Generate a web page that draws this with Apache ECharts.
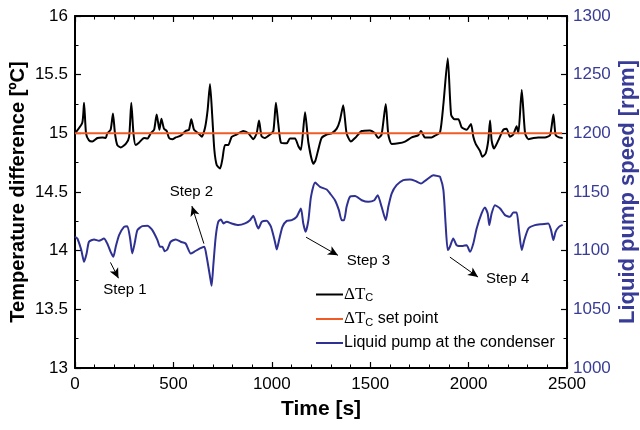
<!DOCTYPE html>
<html>
<head>
<meta charset="utf-8">
<script src="https://cdn.jsdelivr.net/npm/echarts@6/dist/echarts.min.js"></script>
<style>
  html, body { margin: 0; padding: 0; background: #fff; }
  #chart { width: 640px; height: 430px; }
</style>
</head>
<body>
<div id="chart"></div>
<script>
// ΔTc (temperature difference at the condenser) [time s, °C]
const dtTime = [0, 37, 46, 56, 71, 88, 114, 139, 156, 164, 181, 193, 203, 215, 232, 258, 275, 286, 297, 308, 325, 351, 368, 385, 402, 415, 429, 439, 452, 466, 478, 495, 512, 537, 562, 579, 591, 605,
  627, 644, 661, 674, 686, 698, 708, 720, 737, 749, 762, 779, 796, 821, 855, 881, 906, 923, 935, 948, 965, 991, 1008, 1021, 1033, 1047, 1076, 1092, 1118, 1135, 1148, 1169, 1186, 1211, 1222,
  1236, 1253, 1279, 1304, 1330, 1346, 1363, 1380, 1402, 1423, 1457, 1499, 1524, 1541, 1558, 1579, 1592, 1609, 1643, 1677, 1711, 1745, 1758, 1778, 1812, 1829,
  1855, 1872, 1894, 1911, 1928, 1948, 1965, 1990, 2012, 2024, 2036, 2058, 2070, 2087, 2100, 2109, 2117, 2129, 2151, 2176, 2193, 2210, 2227, 2244, 2253, 2270, 2287, 2304, 2329, 2354, 2388, 2414, 2431, 2442, 2459, 2478];
const dtValue = [15.0, 15.09, 15.26, 15.0, 14.94, 14.93, 14.96, 14.965, 14.96, 15.0, 15.03, 15.17, 15.0, 14.9, 14.88, 14.91, 14.97, 15.26, 15.0, 14.9, 14.92, 14.96, 14.955, 15.0, 15.03, 15.16, 15.03, 15.125, 15.04, 15.02, 14.96, 14.95, 14.965, 14.98, 15.02, 15.03, 15.12, 15.03,
  15.0, 14.97, 15.05, 15.2, 15.42, 15.13, 14.86, 14.73, 14.70, 14.78, 14.90, 14.90, 14.97, 14.99, 15.02, 15.0, 14.95, 15.0, 15.11, 14.975, 14.96, 14.99, 15.02, 15.26, 15.08, 14.92, 14.915, 14.955, 14.955, 14.89, 14.86, 15.18, 14.92, 14.74, 14.77,
  14.86, 14.96, 14.99, 15.0, 15.04, 15.11, 15.24, 15.0, 14.93, 14.96, 15.02, 15.025, 15.0, 14.96, 14.99, 15.25, 14.99, 14.91, 14.915, 14.93, 14.965, 14.985, 15.02, 14.965, 14.965, 14.98,
  15.01, 15.25, 15.64, 15.16, 15.12, 15.12, 15.05, 15.03, 15.08, 14.97, 14.91, 14.85, 14.80, 14.83, 14.94, 15.11, 14.94, 14.87, 14.94, 15.03, 15.04, 14.97, 14.99, 15.06, 15.0, 15.37, 15.0, 14.95, 14.96, 14.965, 14.965, 14.985, 15.16, 14.985, 14.965, 14.96];

// ΔTc set point
const setTime = [0, 2475];
const setValue = [15, 15];

// liquid pump speed at the condenser [time s, rpm]
const pumpTime = [0, 12, 32, 46, 59, 71, 97, 122, 147, 164, 181, 195, 207, 224, 249, 266, 280, 291, 303, 317, 342, 368, 393, 419, 432, 444, 456, 469, 486, 512, 537, 562, 588, 605,
  635, 657, 669, 686, 694, 703, 715, 728, 742, 754, 771, 796, 830, 864, 889, 906, 923, 932, 949, 974, 996, 1016, 1025, 1037, 1054, 1076, 1101, 1126, 1148, 1160, 1172, 1186, 1199, 1220,
  1245, 1279, 1296, 1321, 1341, 1355, 1367, 1380, 1397, 1423, 1457, 1490, 1521, 1538, 1558, 1579, 1592, 1609, 1634, 1668, 1702, 1728, 1758, 1787, 1821, 1846, 1855,
  1872, 1883, 1894, 1905, 1922, 1939, 1965, 1990, 2007, 2024, 2041, 2066, 2083, 2097, 2105, 2117, 2134, 2160, 2185, 2210, 2227, 2244, 2256, 2270, 2283, 2304, 2337, 2371, 2405, 2419, 2431, 2442, 2459, 2478];
const pumpValue = [1111.8, 1110.4, 1100.5, 1090.5, 1097.6, 1107.6, 1109.6, 1108.4, 1110.4, 1106.1, 1099, 1094.8, 1103.3, 1113.2, 1120.3, 1120.9, 1110.4, 1097.6, 1106.1, 1117.5, 1120.9, 1121.2, 1117.5, 1109, 1103.3, 1103.3, 1099.6, 1101, 1107.6, 1109.6, 1107.6, 1106.1, 1097.6, 1099,
  1101.9, 1103.3, 1094.8, 1078, 1070, 1088, 1111.8, 1124.6, 1126.6, 1123.2, 1124.6, 1123.2, 1121.8, 1123.2, 1126, 1129.7, 1121.8, 1118.9, 1124.6, 1125.4, 1120.3, 1107.6, 1101, 1109, 1120.3, 1125.4, 1126, 1128.8, 1135.9, 1123.2, 1116.1, 1126, 1145.9, 1158.1,
  1154.4, 1152.1, 1148.7, 1143, 1134.5, 1126, 1126, 1137.4, 1145.9, 1146.5, 1143, 1141.6, 1143, 1147.3, 1137.4, 1126, 1137.4, 1148.7, 1155.8, 1160.1, 1160.6, 1159.5, 1157.2, 1160.6, 1164.3, 1163.5, 1163,
  1151.6, 1123.2, 1100.5, 1103.3, 1110.4, 1104.7, 1103.9, 1104.7, 1099, 1106.1, 1118.9, 1131.7, 1136.8, 1131.7, 1121.8, 1131.7, 1138.8, 1135.9, 1130.3, 1128.8, 1132.5, 1132.5, 1117.5, 1100.5, 1109, 1118.9, 1121.8, 1122.6, 1123.2, 1117.5, 1109, 1116.1, 1120.3, 1122];

// step annotations, in axis units (time s, °C)
const stepNames = ['Step 1', 'Step 2', 'Step 3', 'Step 4'];
const stepTextAt = [[254, 13.67], [592, 14.505], [1491, 13.91], [2198, 13.76]];
const stepArrowFrom = [[180, 13.90], [655, 14.06], [1174, 14.115], [1905, 13.945]];
const stepArrowTo = [[221, 13.765], [594, 14.38], [1336, 13.96], [2048, 13.775]];

const legendNames = ['ΔTc', 'ΔTc set point', 'Liquid pump at the condenser'];

const pair = (xs, ys) => xs.map((x, i) => [x, ys[i]]);
const plain = (v) => String(v);

const FONT = '"Liberation Sans", Arial, sans-serif';
const BLUE_TXT = '#383c96';

const chart = echarts.init(document.getElementById('chart'));

const xCommon = {
  type: 'value',
  min: 0,
  max: 2500,
  interval: 500,
  axisLine: { show: true, onZero: false, lineStyle: { color: '#000', width: 2 } },
  axisTick: { show: true, inside: true, length: 6, lineStyle: { color: '#000', width: 1.2 } },
  minorTick: { show: true, splitNumber: 5, length: 3.5, lineStyle: { color: '#000', width: 1 } },
  splitLine: { show: false },
  minorSplitLine: { show: false },
};

const option = {
  animation: false,
  grid: { left: 75, right: 73, top: 16, bottom: 62, containLabel: false, outerBoundsMode: 'none' },
  legend: {
    data: legendNames,
    orient: 'vertical',
    left: 311,
    top: 281,
    itemWidth: 27,
    itemHeight: 2,
    itemGap: 7,
    icon: 'rect',
    formatter: (name) => {
      if (name === 'ΔTc') return '{d|ΔT}{c|C}';
      if (name === 'ΔTc set point') return '{d|ΔT}{c|C}{n| set point}';
      return '{n|' + name + '}';
    },
    textStyle: {
      color: '#000',
      fontFamily: FONT,
      fontSize: 16,
      padding: [0, 0, 0, -4],
      rich: {
        d: { fontFamily: '"Liberation Serif", "Times New Roman", serif', fontSize: 17, color: '#000', lineHeight: 18, verticalAlign: 'middle' },
        c: { fontFamily: FONT, fontSize: 11, color: '#000', lineHeight: 10, verticalAlign: 'bottom' },
        n: { fontFamily: FONT, fontSize: 16, color: '#000', lineHeight: 18, verticalAlign: 'middle' },
      },
    },
  },
  xAxis: [
    Object.assign({}, xCommon, {
      position: 'bottom',
      name: 'Time [s]',
      nameLocation: 'middle',
      nameGap: 31,
      nameMoveOverlap: false,
      nameTextStyle: { fontFamily: FONT, fontSize: 21, fontWeight: 'bold', color: '#000' },
      axisLabel: { show: true, margin: 8, fontFamily: FONT, fontSize: 17, color: '#000', formatter: plain },
    }),
    Object.assign({}, xCommon, {
      position: 'top',
      axisLabel: { show: false },
    }),
  ],
  yAxis: [
    {
      type: 'value',
      position: 'left',
      min: 13,
      max: 16,
      interval: 0.5,
      name: 'Temperature difference [ºC]',
      nameLocation: 'middle',
      nameGap: 47,
      nameMoveOverlap: false,
      nameTextStyle: { fontFamily: FONT, fontSize: 20, fontWeight: 'bold', color: '#000' },
      axisLine: { show: true, onZero: false, lineStyle: { color: '#000', width: 2 } },
      axisTick: { show: true, inside: true, length: 6, lineStyle: { color: '#000', width: 1.2 } },
      minorTick: { show: true, splitNumber: 2, length: 3.5, lineStyle: { color: '#000', width: 1 } },
      axisLabel: { margin: 7, fontFamily: FONT, fontSize: 17, color: '#000', formatter: plain },
      splitLine: { show: false },
      minorSplitLine: { show: false },
    },
    {
      type: 'value',
      position: 'right',
      min: 1000,
      max: 1300,
      interval: 50,
      name: 'Liquid pump speed [rpm]',
      nameLocation: 'middle',
      nameGap: 50,
      nameRotate: 90,
      nameMoveOverlap: false,
      nameTextStyle: { fontFamily: FONT, fontSize: 22, fontWeight: 'bold', color: BLUE_TXT },
      axisLine: { show: true, onZero: false, lineStyle: { color: '#000', width: 2 } },
      axisTick: { show: true, inside: true, length: 6, lineStyle: { color: '#000', width: 1.2 } },
      minorTick: { show: true, splitNumber: 2, length: 3.5, lineStyle: { color: '#000', width: 1 } },
      axisLabel: { margin: 6, fontFamily: FONT, fontSize: 17, color: BLUE_TXT, formatter: plain },
      splitLine: { show: false },
      minorSplitLine: { show: false },
    },
  ],
  series: [
    {
      name: 'ΔTc',
      type: 'line',
      xAxisIndex: 0,
      yAxisIndex: 0,
      data: pair(dtTime, dtValue),
      showSymbol: false,
      symbol: 'none',
      smooth: 0.2,
      lineStyle: { color: '#000', width: 2 },
      itemStyle: { color: '#000' },
    },
    {
      name: 'ΔTc set point',
      type: 'line',
      xAxisIndex: 0,
      yAxisIndex: 0,
      data: pair(setTime, setValue),
      showSymbol: false,
      symbol: 'none',
      lineStyle: { color: '#f15a24', width: 2 },
      itemStyle: { color: '#f15a24' },
    },
    {
      name: 'Liquid pump at the condenser',
      type: 'line',
      xAxisIndex: 0,
      yAxisIndex: 1,
      data: pair(pumpTime, pumpValue),
      showSymbol: false,
      symbol: 'none',
      smooth: 0.2,
      lineStyle: { color: '#2e3192', width: 2 },
      itemStyle: { color: '#2e3192' },
    },
    {
      name: 'steps',
      type: 'line',
      xAxisIndex: 0,
      yAxisIndex: 0,
      data: [],
      silent: true,
      markLine: {
        silent: true,
        symbol: ['none', 'arrow'],
        symbolSize: [7, 10],
        lineStyle: { color: '#000', width: 1, type: 'solid' },
        label: { show: false },
        data: stepArrowFrom.map((p, i) => [{ coord: p }, { coord: stepArrowTo[i] }]),
      },
      markPoint: {
        silent: true,
        symbol: 'rect',
        symbolSize: 1,
        itemStyle: { color: 'rgba(0,0,0,0)' },
        label: { show: true, position: 'inside', formatter: '{b}', fontFamily: FONT, fontSize: 15, color: '#000' },
        data: stepTextAt.map((p, i) => ({ name: stepNames[i], coord: p })),
      },
    },
  ],
};

chart.setOption(option);
</script>
</body>
</html>
